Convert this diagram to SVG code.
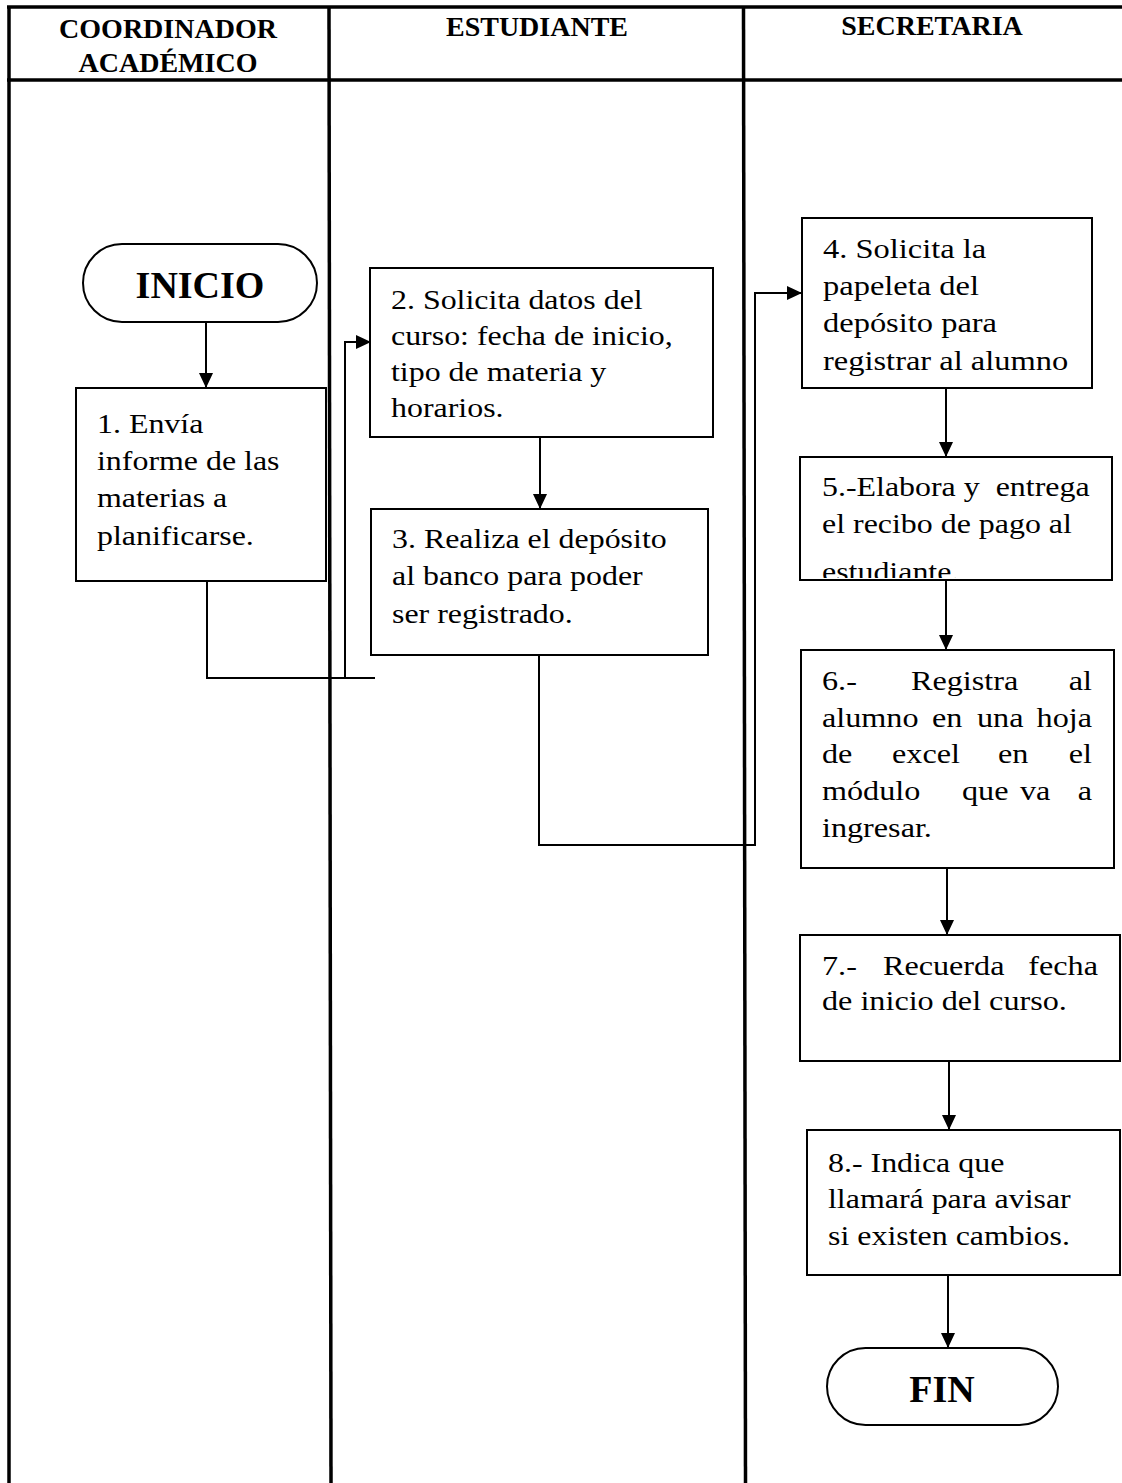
<svg xmlns="http://www.w3.org/2000/svg" width="1122" height="1483" viewBox="0 0 1122 1483">
<style>
.lane{stroke:#000;stroke-width:3.5;fill:none}
.box{fill:#fff;stroke:#000;stroke-width:2}
.conn{stroke:#000;stroke-width:2;fill:none}
.hdr{font-family:"Liberation Serif","Times New Roman",serif;font-weight:bold;font-size:28px;text-anchor:middle;fill:#000}
.t{font-family:"Liberation Serif","Times New Roman",serif;font-size:28px;fill:#000;white-space:pre}
.term{font-family:"Liberation Serif","Times New Roman",serif;font-weight:bold;font-size:38px;text-anchor:middle;fill:#000}
.e{text-anchor:end}
</style>
<defs>
<marker id="arr" markerUnits="userSpaceOnUse" markerWidth="16" markerHeight="16" viewBox="0 0 16 16" refX="15" refY="8" orient="auto">
<path d="M0,1 L15,8 L0,15 Z" fill="#000"/>
</marker>
<clipPath id="clip5" clipPathUnits="userSpaceOnUse"><rect x="800" y="457" width="312" height="121"/></clipPath>
</defs>
<rect width="1122" height="1483" fill="#fff"/>
<g id="lanes">
<line class="lane" x1="7" y1="7" x2="1122" y2="7"/>
<line class="lane" x1="7" y1="80" x2="1122" y2="80"/>
<line class="lane" x1="9" y1="6" x2="9" y2="1483"/>
<line class="lane" x1="329" y1="6" x2="331" y2="1483"/>
<line class="lane" x1="743.5" y1="6" x2="745.5" y2="1483"/>
<text class="hdr" x="168" y="38">COORDINADOR</text>
<text class="hdr" x="168" y="72">ACADÉMICO</text>
<text class="hdr" x="537" y="36">ESTUDIANTE</text>
<text class="hdr" x="932" y="35">SECRETARIA</text>
</g>
<g id="connectors">
<line class="conn" x1="206" y1="322" x2="206" y2="388" marker-end="url(#arr)"/>
<path class="conn" d="M207,581 V678 H375"/>
<path class="conn" d="M345,678 V342 H371" marker-end="url(#arr)"/>
<line class="conn" x1="540" y1="437" x2="540" y2="509" marker-end="url(#arr)"/>
<path class="conn" d="M539,655 V845 H755 V293 H802" marker-end="url(#arr)"/>
<line class="conn" x1="946" y1="388" x2="946" y2="457" marker-end="url(#arr)"/>
<line class="conn" x1="946" y1="580" x2="946" y2="650" marker-end="url(#arr)"/>
<line class="conn" x1="947" y1="868" x2="947" y2="935" marker-end="url(#arr)"/>
<line class="conn" x1="949" y1="1061" x2="949" y2="1130" marker-end="url(#arr)"/>
<line class="conn" x1="948" y1="1275" x2="948" y2="1348" marker-end="url(#arr)"/>
</g>
<g id="inicio">
<rect class="box" x="83" y="244" width="234" height="78" rx="39"/>
<text class="term" x="200" y="298">INICIO</text>
</g>
<g id="n1">
<rect class="box" x="76" y="388" width="250" height="193"/>
<text class="t" transform="translate(97,0) scale(1.14,1)"><tspan x="0" y="433">1. Envía</tspan><tspan x="0" y="470">informe de las</tspan><tspan x="0" y="507">materias a</tspan><tspan x="0" y="545">planificarse.</tspan></text>
</g>
<g id="n2">
<rect class="box" x="370" y="268" width="343" height="169"/>
<text class="t" transform="translate(391,0) scale(1.14,1)"><tspan x="0" y="309">2. Solicita datos del</tspan><tspan x="0" y="345">curso: fecha de inicio,</tspan><tspan x="0" y="381">tipo de materia y</tspan><tspan x="0" y="417">horarios.</tspan></text>
</g>
<g id="n3">
<rect class="box" x="371" y="509" width="337" height="146"/>
<text class="t" transform="translate(392,0) scale(1.14,1)"><tspan x="0" y="548">3. Realiza el depósito</tspan><tspan x="0" y="585">al banco para poder</tspan><tspan x="0" y="623">ser registrado.</tspan></text>
</g>
<g id="n4">
<rect class="box" x="802" y="218" width="290" height="170"/>
<text class="t" transform="translate(823,0) scale(1.16,1)"><tspan x="0" y="258">4. Solicita la</tspan><tspan x="0" y="295">papeleta del</tspan><tspan x="0" y="332">depósito para</tspan><tspan x="0" y="370">registrar al alumno</tspan></text>
</g>
<g id="n5">
<rect class="box" x="800" y="457" width="312" height="123"/>
<g clip-path="url(#clip5)">
<text class="t" transform="translate(822,0) scale(1.14,1)"><tspan x="0" y="496">5.-Elabora y  entrega</tspan><tspan x="0" y="533">el recibo de pago al</tspan><tspan x="0" y="581">estudiante.</tspan></text>
</g>
</g>
<g id="n6">
<rect class="box" x="801" y="650" width="313" height="218"/>
<text class="t" transform="translate(822,0) scale(1.15,1)"><tspan x="0" y="690">6.-</tspan><tspan x="77.4" y="690">Registra</tspan><tspan class="e" x="234.8" y="690">al</tspan><tspan x="0" y="727">alumno</tspan><tspan x="95.7" y="727">en</tspan><tspan x="134.8" y="727">una</tspan><tspan class="e" x="234.8" y="727">hoja</tspan><tspan x="0" y="763">de</tspan><tspan x="60.9" y="763">excel</tspan><tspan x="153" y="763">en</tspan><tspan class="e" x="234.8" y="763">el</tspan><tspan x="0" y="800">módulo</tspan><tspan x="121.7" y="800">que</tspan><tspan x="172.2" y="800">va</tspan><tspan class="e" x="234.8" y="800">a</tspan><tspan x="0" y="837">ingresar.</tspan></text>
</g>
<g id="n7">
<rect class="box" x="800" y="935" width="320" height="126"/>
<text class="t" transform="translate(822,0) scale(1.15,1)"><tspan x="0" y="975">7.-</tspan><tspan x="53" y="975">Recuerda</tspan><tspan class="e" x="240" y="975">fecha</tspan><tspan x="0" y="1010">de inicio del curso.</tspan></text>
</g>
<g id="n8">
<rect class="box" x="807" y="1130" width="313" height="145"/>
<text class="t" transform="translate(828,0) scale(1.14,1)"><tspan x="0" y="1172">8.- Indica que</tspan><tspan x="0" y="1208">llamará para avisar</tspan><tspan x="0" y="1245">si existen cambios.</tspan></text>
</g>
<g id="fin">
<rect class="box" x="827" y="1348" width="231" height="77" rx="38.5"/>
<text class="term" x="942" y="1402">FIN</text>
</g>
</svg>
